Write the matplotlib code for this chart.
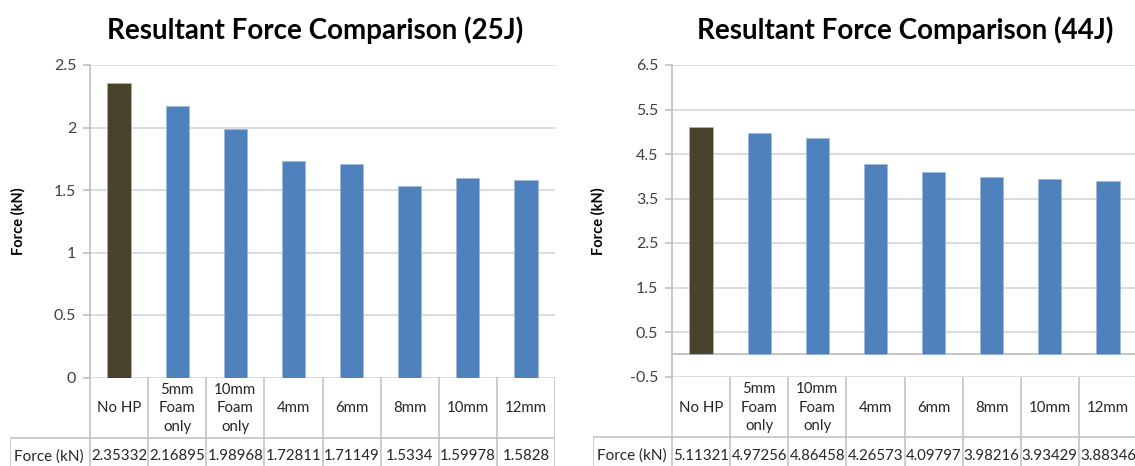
import matplotlib
matplotlib.use("Agg")
from matplotlib import pyplot as plt

plt.rcParams['font.family'] = ['Lato', 'DejaVu Sans']

W, H = 1135, 466

categories = ["No HP", "5mm\nFoam\nonly", "10mm\nFoam\nonly", "4mm", "6mm", "8mm", "10mm", "12mm"]
force_25j = [2.35332, 2.16895, 1.98968, 1.72811, 1.71149, 1.5334, 1.59978, 1.5828]
force_44j = [5.11321, 4.97256, 4.86458, 4.26573, 4.09797, 3.98216, 3.93429, 3.88346]
ticks_25j = [0, 0.5, 1, 1.5, 2, 2.5]
ticks_44j = [-0.5, 0.5, 1.5, 2.5, 3.5, 4.5, 5.5, 6.5]

bar_colors = ['#4A432B'] + ['#4F81BD'] * 7
grid_col = '#D9D9D9'
line_col = '#BFBFBF'
text_col = '#262626'


def px_axes(fig, x0, y0, x1, y1):
    # axes placed in pixel coordinates, y measured from the top
    return fig.add_axes([x0 / W, 1 - y1 / H, (x1 - x0) / W, (y1 - y0) / H])


def draw_panel(fig, values, ticks, title, x0, x1, ytop, ybot, label_x0, title_x, ylabel_x):
    ax = px_axes(fig, x0, ytop, x1, ybot)
    n = len(values)
    ax.bar(range(n), values, width=0.4, color=bar_colors, edgecolor='#9DB8DA',
           linewidth=0.5, zorder=3)
    ax.set_xlim(-0.5, n - 0.5)
    ax.set_ylim(ticks[0], ticks[-1])
    ax.set_yticks(ticks)
    ax.set_yticklabels([f"{t:g}" for t in ticks])
    ax.set_xticks([])
    ax.grid(axis='y', color=grid_col, lw=1.3, zorder=0)
    for s in ['top', 'right', 'bottom']:
        ax.spines[s].set_visible(False)
    ax.spines['left'].set_color(line_col)
    ax.spines['left'].set_linewidth(1.2)
    if ticks[0] < 0:
        ax.axhline(0, color=line_col, lw=1.3, zorder=2)
    ax.tick_params(axis='y', length=5, width=1.2, color=line_col, labelsize=11.5,
                   labelcolor='#404040', pad=5)

    fig.text(title_x / W, 1 - 30 / H, title, ha='center', va='center',
             fontsize=20, fontweight='bold', color='black')
    fig.text(ylabel_x / W, 1 - (ytop + ybot) / 2 / H, "Force (kN)", rotation=90,
             ha='center', va='center', fontsize=10.5, fontweight='bold', color='black')

    # data table under the plot
    row1, row2 = 60, 98
    tab = px_axes(fig, label_x0, ybot, x1, ybot + row2)
    u = n / (x1 - x0)
    left = -0.5 - (x0 - label_x0) * u
    tab.set_xlim(left, n - 0.5)
    tab.set_ylim(row2, 0)
    tab.axis('off')
    for i in range(n + 1):
        tab.plot([i - 0.5, i - 0.5], [0, row2], color=line_col, lw=1.1)
    tab.plot([left, left], [row1, row2], color=line_col, lw=1.1)
    tab.plot([left, n - 0.5], [row1, row1], color=line_col, lw=1.1)
    tab.plot([left, n - 0.5], [row2, row2], color=line_col, lw=1.1)
    for i, (c, v) in enumerate(zip(categories, values)):
        tab.text(i, row1 / 2 + 1, c, ha='center', va='center', fontsize=10.8,
                 color=text_col, linespacing=1.45)
        tab.text(i, row1 + 19, f"{v:g}", ha='center', va='center',
                 fontsize=10.8, color=text_col)
    tab.text(left + 4 * u, row1 + 19, "Force (kN)", ha='left', va='center',
             fontsize=11, color=text_col)


fig = plt.figure(figsize=(W / 100, H / 100), dpi=100)
draw_panel(fig, force_25j, ticks_25j, "Resultant Force Comparison (25J)",
           90, 555, 65, 377.5, 10, 315, 18)
draw_panel(fig, force_44j, ticks_44j, "Resultant Force Comparison (44J)",
           672, 1137, 65, 376.5, 593, 905, 598)
fig.savefig("out.png", dpi=100)
